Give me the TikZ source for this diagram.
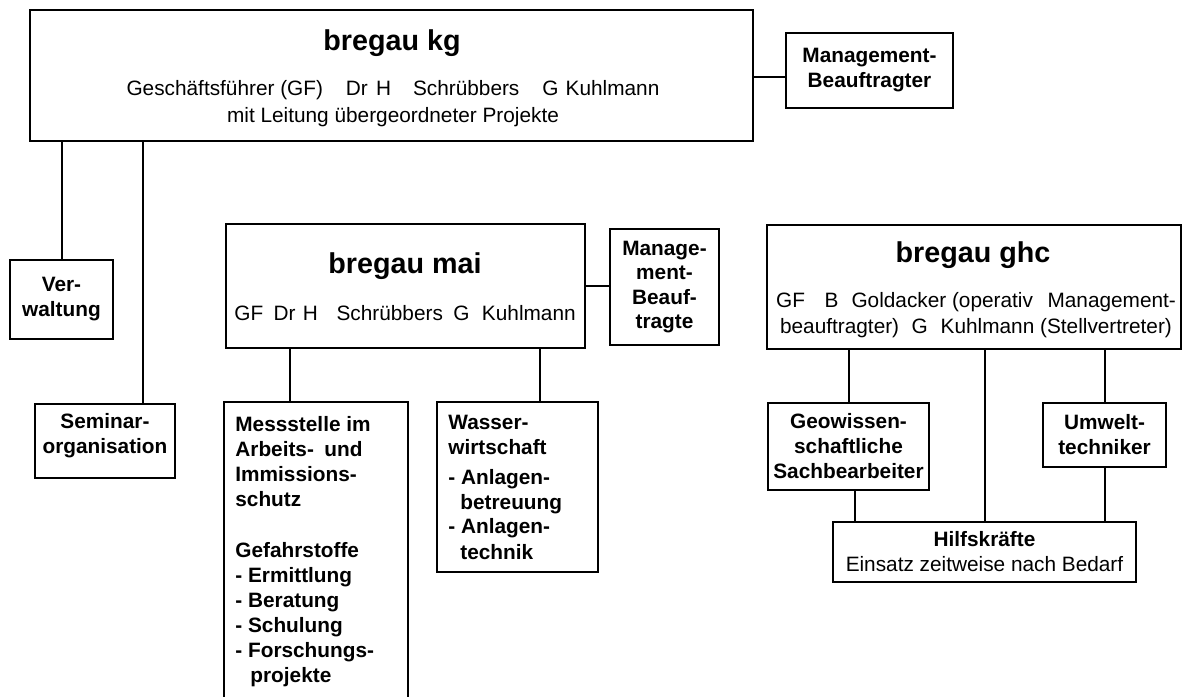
\documentclass[tikz,border=0pt]{standalone}
\usepackage{fontspec}
\setmainfont{Liberation Sans}
\begin{document}
\begin{tikzpicture}[x=0.5pt,y=-0.5pt,
	box/.style={draw, line width=1pt, inner sep=0pt, align=center, font=\bfseries\fontsize{10.4}{12.5}\selectfont},
	title/.style={anchor=base, font=\bfseries\fontsize{14.35}{17}\selectfont},
	info/.style={align=center, inner sep=0pt, font=\fontsize{10.4}{13.5}\selectfont},
	item/.style={anchor=base west, inner sep=0pt, font=\bfseries\fontsize{10.4}{12.5}\selectfont},
	line/.style={line width=1pt}]
	\useasboundingbox (0,0) rectangle (1183,696);
	\clip (0,0) rectangle (1183,696);
	
	% bregau kg
	\node[box, minimum width=361.5pt, minimum height=65.5pt] (kg) at (391.5,75.5) {};
	\node[title] (kg-title) at (392,50) {bregau kg};
	\node[info] (kg-info) at (393,103.5) {Geschäftsführer (GF)\hspace{1.1em}Dr\hspace{0.4em}H\hspace{1.05em}Schrübbers\hspace{1.1em}G\hspace{0.35em}Kuhlmann\\ mit Leitung übergeordneter Projekte};
	\node[box, minimum width=83.5pt, minimum height=37.5pt] (mb1) at (869.5,70.5) {Management-\\Beauftragter};
	\node[box, minimum width=51.5pt, minimum height=39.5pt] (verw) at (61.5,299.5) {Ver-\\waltung};
	\node[box, minimum width=70pt, minimum height=37pt] (sem) at (105,441) {};
	\node[info, font=\bfseries\fontsize{10.4}{12.5}\selectfont] (sem-text) at (105,436) {Seminar-\\organisation};
	
	\draw[line] (verw.north) -- (verw.north |- kg.south);
	\draw[line] ([xshift=19pt]sem.north) -- ([xshift=19pt]sem.north |- kg.south);
	\draw[line] ([yshift=-3.25pt]mb1.west) -- ([yshift=-3.25pt]mb1.west -| kg.east);
	
	% bregau mai
	\node[box, minimum width=179.5pt, minimum height=62pt] (mai) at (405.5,286) {};
	\node[title] (mai-title) at (405,273) {bregau mai};
	\node[info, anchor=base] (mai-info) at (405,320.5) {GF\hspace{0.5em}Dr\hspace{0.35em}H\hspace{0.9em}Schrübbers\hspace{0.5em}G\hspace{0.6em}Kuhlmann};
	\node[box, minimum width=54.5pt, minimum height=58pt, font=\bfseries\fontsize{10.4}{12.3}\selectfont] (mb2) at (664.5,287) {Manage-\\ment-\\Beauf-\\tragte};
	\node[box, minimum width=92pt, minimum height=159pt] (mess) at (316,561) {};
	\node[box, minimum width=80.5pt, minimum height=85pt] (wasser) at (517.5,487) {};
	
	\foreach \y/\t [count=\i] in {431.5/Messstelle im, 456.5/Arbeits-\hspace{0.5em}und, 481.5/Immissions-, 506.5/schutz,
		557.5/Gefahrstoffe, 582.5/- Ermittlung, 607.5/- Beratung, 632.5/- Schulung, 657.5/- Forschungs-, 682.5/\hspace{7.5pt}projekte}
		\node[item] (mess-\i) at (235,\y) {\t};
	\foreach \y/\t [count=\i] in {429.5/Wasser-, 454.5/wirtschaft, 484.5/- Anlagen-, 509.5/\hspace{6pt}betreuung, 533.5/- Anlagen-, 559.5/\hspace{6pt}technik}
		\node[item] (wasser-\i) at (448,\y) {\t};
	
	\draw[line] (mai.east) -- (mai.east -| mb2.west);
	\draw[line] ([xshift=-13pt]mess.north) -- ([xshift=-13pt]mess.north |- mai.south);
	\draw[line] ([xshift=11.25pt]wasser.north) -- ([xshift=11.25pt]wasser.north |- mai.south);
	
	% bregau ghc
	\node[box, minimum width=207pt, minimum height=62pt] (ghc) at (974,287) {};
	\node[title] (ghc-title) at (973,262) {bregau ghc};
	\node[info, font=\fontsize{10.4}{13}\selectfont] (ghc-info) at (976,315) {GF\hspace{0.95em}B\hspace{0.62em}Goldacker (operativ\hspace{0.7em}Management-\\ beauftragter)\hspace{0.6em}G\hspace{0.62em}Kuhlmann (Stellvertreter)};
	\node[box, minimum width=80.5pt, minimum height=43.5pt] (geo) at (848.5,446.5) {Geowissen-\\schaftliche\\Sachbearbeiter};
	\node[box, minimum width=61.5pt, minimum height=32pt] (umw) at (1104.5,435) {Umwelt-\\techniker};
	\node[box, minimum width=151.5pt, minimum height=30pt] (hilf) at (984.5,552) {Hilfskräfte\\ \textmd{Einsatz zeitweise nach Bedarf}};
	
	\draw[line] (geo.north) -- (geo.north |- ghc.south);
	\draw[line] (hilf.north) -- (hilf.north |- ghc.south);
	\draw[line] (umw.north) -- (umw.north |- ghc.south);
	\draw[line] ([xshift=3.25pt]geo.south) -- ([xshift=3.25pt]geo.south |- hilf.north);
	\draw[line] (umw.south) -- (umw.south |- hilf.north);
\end{tikzpicture}
\end{document}
